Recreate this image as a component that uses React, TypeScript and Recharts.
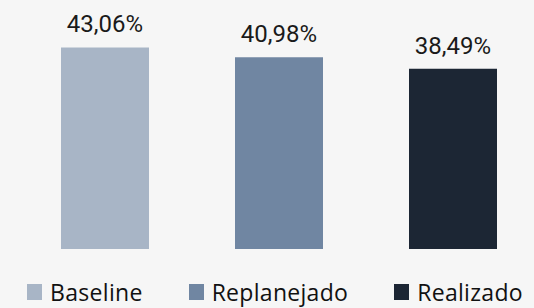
import React from 'react';
import { BarChart, Bar, XAxis, YAxis, Legend, LabelList } from 'recharts';

const categories = ['Resultado'];
const seriesNames = ['Baseline', 'Replanejado', 'Realizado'];
const seriesValues = [43.06, 40.98, 38.49];
const seriesColors = ['#A8B5C6', '#7086A2', '#1C2634'];

const data = categories.map((c) => {
  const row: Record<string, any> = { name: c };
  seriesNames.forEach((s, i) => {
    row[s] = seriesValues[i];
  });
  return row;
});

const fmt = (v: any) => `${Number(v).toFixed(2).replace('.', ',')}%`;

const LegendContent = () => (
  <div style={{ display: 'flex', justifyContent: 'center', gap: 46, fontFamily: '"Open Sans", sans-serif', fontSize: 23, letterSpacing: 0.3, color: '#111', lineHeight: '22px', whiteSpace: 'nowrap' }}>
    {seriesNames.map((s, i) => (
      <div key={s} style={{ display: 'flex', alignItems: 'center' }}>
        <span style={{ display: 'inline-block', width: 15, height: 16, background: seriesColors[i], marginRight: 8 }} />
        <span>{s}</span>
      </div>
    ))}
  </div>
);

export default function App() {
  return (
    <div style={{ position: 'absolute', left: 0, top: 0, width: 534, height: 308, background: '#F6F6F6' }}>
      <BarChart
        width={534}
        height={308}
        data={data}
        margin={{ top: 15, right: 0, left: 23, bottom: 59 }}
        barCategoryGap={0}
        barGap={86}
      >
        <XAxis dataKey="name" hide />
        <YAxis hide domain={[0, 50]} />
        <Legend
          verticalAlign="middle"
          align="center"
          layout="horizontal"
          content={<LegendContent />}
          wrapperStyle={{ left: 16, width: 518, top: 281 }}
        />
        {seriesNames.map((s, i) => (
          <Bar key={s} dataKey={s} fill={seriesColors[i]} barSize={88} isAnimationActive={false}>
            <LabelList
              dataKey={s}
              position="top"
              offset={15}
              formatter={fmt}
              style={{ fontFamily: 'Roboto, sans-serif', fontSize: 24, fill: '#1a1a1a' }}
            />
          </Bar>
        ))}
      </BarChart>
    </div>
  );
}
